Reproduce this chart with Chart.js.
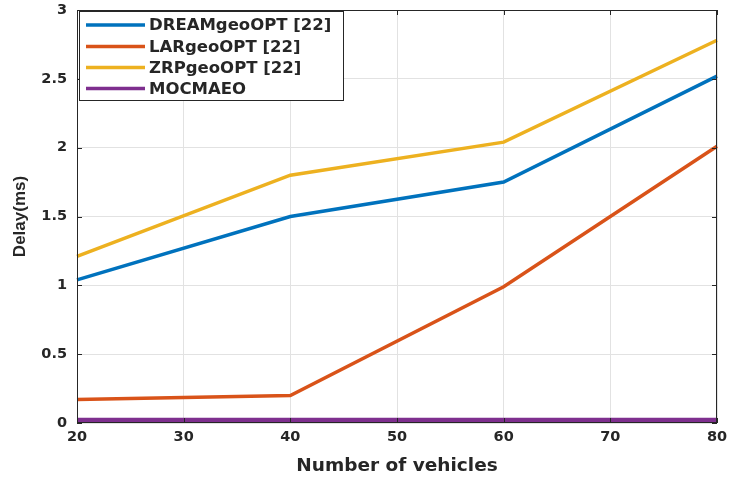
<!DOCTYPE html>
<html>
<head>
<meta charset="utf-8">
<script src="https://cdn.jsdelivr.net/npm/chart.js@4"></script>
<style>
  html, body { margin: 0; padding: 0; background: #fff; }
  #wrap { width: 729px; height: 477px; position: relative; }
</style>
</head>
<body>
<div id="wrap"><canvas id="c" width="729" height="477"></canvas></div>
<script>
const vehicles = [20, 40, 60, 80];
const seriesNames = ['DREAMgeoOPT [22]', 'LARgeoOPT [22]', 'ZRPgeoOPT [22]', 'MOCMAEO'];
const dreamDelay = [1.04, 1.50, 1.75, 2.52];
const larDelay = [0.17, 0.20, 0.99, 2.01];
const zrpDelay = [1.21, 1.80, 2.04, 2.78];
const mocmaeoDelay = [0.02, 0.02, 0.02, 0.02];
const xTicks = [20, 30, 40, 50, 60, 70, 80];
const yTicks = [0, 0.5, 1, 1.5, 2, 2.5, 3];

const colors = ['#0072BD', '#D95319', '#EDB120', '#7E2F8E'];
const widths = [3.5, 3.5, 3.5, 5];
const allSeries = [dreamDelay, larDelay, zrpDelay, mocmaeoDelay];

const datasets = allSeries.map((vals, i) => ({
  label: seriesNames[i],
  data: vehicles.map((v, j) => ({ x: v, y: vals[j] })),
  borderColor: colors[i],
  backgroundColor: colors[i],
  borderWidth: widths[i],
  pointRadius: 0,
  tension: 0,
  clip: false,
  order: 3 - i
}));

const AX = '#262626';

const framePlugin = {
  id: 'frame',
  afterDatasetsDraw(chart) {
    const { ctx, chartArea: a, scales } = chart;
    ctx.save();
    ctx.strokeStyle = AX;
    ctx.lineWidth = 1;
    ctx.strokeRect(a.left + 0.5, a.top + 0.5, a.right - a.left - 1, a.bottom - a.top - 1);
    const tl = 5;
    ctx.beginPath();
    xTicks.forEach(t => {
      const x = Math.round(scales.x.getPixelForValue(t)) + 0.5;
      ctx.moveTo(x, a.bottom); ctx.lineTo(x, a.bottom - tl);
      ctx.moveTo(x, a.top); ctx.lineTo(x, a.top + tl);
    });
    yTicks.forEach(t => {
      const y = Math.round(scales.y.getPixelForValue(t)) + 0.5;
      ctx.moveTo(a.left, y); ctx.lineTo(a.left + tl, y);
      ctx.moveTo(a.right, y); ctx.lineTo(a.right - tl, y);
    });
    ctx.stroke();

    // legend box
    const bx = a.left + 2, by = a.top + 1, bw = 264, bh = 89;
    ctx.fillStyle = '#fff';
    ctx.fillRect(bx, by, bw, bh);
    ctx.strokeStyle = AX;
    ctx.strokeRect(bx + 0.5, by + 0.5, bw, bh);
    const rows = [14, 35.5, 56.5, 77.5];
    chart.data.datasets.forEach((ds, i) => {
      const y = by + rows[i];
      ctx.strokeStyle = ds.borderColor;
      ctx.lineWidth = 3.5;
      ctx.beginPath();
      ctx.moveTo(bx + 7, y); ctx.lineTo(bx + 66, y);
      ctx.stroke();
      ctx.fillStyle = AX;
      ctx.font = 'bold 16.5px "DejaVu Sans"';
      ctx.textBaseline = 'middle';
      ctx.textAlign = 'left';
      ctx.fillText(ds.label, bx + 70, y + 1);
    });
    ctx.restore();
  }
};

new Chart(document.getElementById('c'), {
  type: 'line',
  data: { datasets },
  options: {
    responsive: false,
    animation: false,
    layout: { padding: { top: 10, right: 12, left: 0, bottom: 0 } },
    plugins: { legend: { display: false }, tooltip: { enabled: false } },
    scales: {
      x: {
        type: 'linear',
        min: 20, max: 80,
        afterFit(s) { s.height = 54; s.paddingLeft = 0; s.paddingRight = 0; },
        afterBuildTicks(s) { s.ticks = xTicks.map(v => ({ value: v })); },
        ticks: { color: AX, font: { family: '"DejaVu Sans"', weight: 'bold', size: 14.5 }, padding: 6, maxRotation: 0, callback: v => String(v) },
        grid: { color: '#e2e2e2', drawTicks: false },
        border: { display: false },
        title: { display: true, text: 'Number of vehicles', color: AX, font: { family: '"DejaVu Sans"', weight: 'bold', size: 18.5 }, padding: { top: 4, bottom: 0 } }
      },
      y: {
        min: 0, max: 3,
        afterFit(s) { s.width = 77; s.paddingTop = 0; s.paddingBottom = 0; },
        afterBuildTicks(s) { s.ticks = yTicks.map(v => ({ value: v })); },
        ticks: { color: AX, font: { family: '"DejaVu Sans"', weight: 'bold', size: 14.5 }, padding: 10, callback: v => String(v) },
        grid: { color: '#e2e2e2', drawTicks: false },
        border: { display: false },
        title: { display: true, text: 'Delay(ms)', color: AX, font: { family: '"Liberation Sans"', weight: 'bold', size: 17 }, padding: { top: 10, bottom: 4 } }
      }
    }
  },
  plugins: [framePlugin]
});
</script>
</body>
</html>
